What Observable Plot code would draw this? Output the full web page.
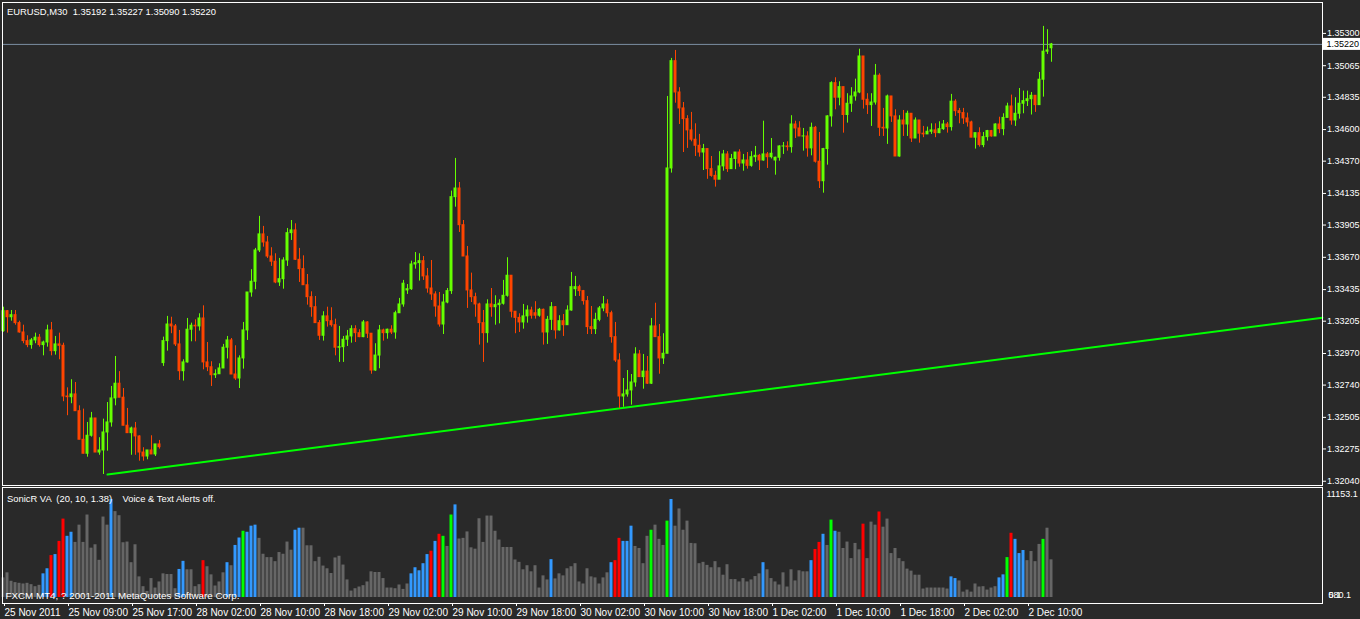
<!DOCTYPE html>
<html><head><meta charset="utf-8">
<script src="https://cdn.jsdelivr.net/npm/d3@7"></script>
<script src="https://cdn.jsdelivr.net/npm/@observablehq/plot@0.6"></script>
<style>
html,body{margin:0;padding:0;background:#292929;}
#chart{position:relative;width:1360px;height:619px;overflow:hidden;background:#292929;}
#chart svg{position:absolute;left:0;display:block;}
svg text{white-space:pre;}
</style></head><body><div id="chart"></div>
<script>
const symbol = "EURUSD,M30";
const indicatorTitle = "SonicR VA  (20, 10, 1.38)    Voice & Text Alerts off.";
const copyright = "FXCM MT4, ? 2001-2011 MetaQuotes Software Corp.";

const open = [
1.33133,1.33278,1.33234,1.33249,1.33191,1.33123,1.33060,1.33031,1.33065,1.33085,1.33031,1.33050,1.33138,1.32987,1.33036,1.33026,
1.32657,1.32652,1.32672,1.32550,1.32342,1.32240,1.32371,1.32497,1.32249,1.32264,1.32395,1.32468,1.32643,1.32750,1.32648,1.32444,
1.32390,1.32424,1.32366,1.32249,1.32220,1.32264,1.32235,1.32308,1.32900,1.33060,1.33181,1.33167,1.33036,1.32841,1.32905,1.33143,
1.33172,1.33167,1.33225,1.32905,1.32870,1.32812,1.32819,1.32861,1.33012,1.33065,1.32817,1.32788,1.32934,1.33138,1.33414,1.33492,
1.33720,1.33837,1.33778,1.33676,1.33638,1.33487,1.33511,1.33647,1.33846,1.33866,1.33652,1.33584,1.33467,1.33380,1.33307,1.33191,
1.33099,1.33240,1.33205,1.33176,1.33012,1.33016,1.33070,1.33094,1.33147,1.33118,1.33089,1.33196,1.33114,1.32846,1.32955,1.33138,
1.33118,1.33143,1.33123,1.33263,1.33327,1.33429,1.33438,1.33618,1.33628,1.33642,1.33531,1.33443,1.33400,1.33312,1.33181,1.33341,
1.33424,1.34108,1.34171,1.33904,1.33676,1.33429,1.33380,1.33327,1.33191,1.33118,1.33327,1.33307,1.33322,1.33332,1.33390,1.33536,
1.33274,1.33229,1.33196,1.33240,1.33283,1.33263,1.33245,1.33288,1.33123,1.33215,1.33307,1.33138,1.33205,1.33176,1.33283,1.33438,
1.33453,1.33424,1.33351,1.33162,1.33147,1.33215,1.33298,1.33327,1.33263,1.33089,1.32919,1.32657,1.32672,1.32701,1.32759,1.32963,
1.32798,1.32838,1.32750,1.33167,1.33089,1.32934,1.32968,1.34317,1.35098,1.34870,1.34754,1.34676,1.34594,1.34526,1.34482,1.34433,
1.34458,1.34312,1.34263,1.34235,1.34332,1.34419,1.34312,1.34386,1.34433,1.34353,1.34375,1.34336,1.34399,1.34409,1.34375,1.34419,
1.34399,1.34375,1.34395,1.34477,1.34477,1.34472,1.34637,1.34608,1.34550,1.34550,1.34463,1.34613,1.34366,1.34224,1.34458,1.34696,
1.34938,1.34832,1.34909,1.34706,1.34788,1.34841,1.34870,1.35132,1.34817,1.34778,1.34797,1.34992,1.34613,1.34608,1.34841,1.34696,
1.34404,1.34666,1.34637,1.34715,1.34535,1.34666,1.34570,1.34565,1.34584,1.34594,1.34574,1.34603,1.34637,1.34618,1.34803,1.34734,
1.34720,1.34681,1.34652,1.34541,1.34574,1.34487,1.34545,1.34589,1.34550,1.34637,1.34603,1.34685,1.34768,1.34666,1.34715,1.34788,
1.34807,1.34821,1.34846,1.34778,1.34963,1.35167,1.35192];

const high = [
1.33307,1.33283,1.33283,1.33283,1.33205,1.33176,1.33099,1.33079,1.33118,1.33108,1.33060,1.33176,1.33196,1.33094,1.33118,1.33045,
1.32720,1.32779,1.32759,1.32589,1.32565,1.32468,1.32541,1.32497,1.32357,1.32492,1.32613,1.32730,1.32948,1.32838,1.32715,1.32570,
1.32434,1.32468,1.32371,1.32284,1.32264,1.32371,1.32308,1.32337,1.33089,1.33240,1.33234,1.33181,1.33138,1.32924,1.33225,1.33191,
1.33215,1.33259,1.33317,1.33050,1.32910,1.32851,1.32895,1.33036,1.33094,1.33079,1.33026,1.32953,1.33196,1.33414,1.33580,1.33735,
1.33968,1.33895,1.33822,1.33740,1.33696,1.33662,1.33667,1.33880,1.33938,1.33914,1.33735,1.33681,1.33545,1.33419,1.33385,1.33210,
1.33274,1.33307,1.33303,1.33220,1.33167,1.33094,1.33138,1.33172,1.33172,1.33143,1.33210,1.33201,1.33114,1.33041,1.33174,1.33147,
1.33147,1.33172,1.33278,1.33371,1.33502,1.33472,1.33642,1.33705,1.33696,1.33676,1.33589,1.33647,1.33419,1.33414,1.33400,1.33443,
1.34152,1.34390,1.34215,1.33938,1.33749,1.33555,1.33409,1.33336,1.33283,1.33361,1.33443,1.33390,1.33361,1.33502,1.33667,1.33536,
1.33274,1.33259,1.33327,1.33317,1.33307,1.33347,1.33298,1.33293,1.33240,1.33341,1.33312,1.33245,1.33254,1.33317,1.33560,1.33531,
1.33467,1.33429,1.33385,1.33312,1.33263,1.33312,1.33385,1.33361,1.33278,1.33196,1.32968,1.32788,1.32846,1.32817,1.33012,1.32992,
1.32963,1.32948,1.33225,1.33336,1.33181,1.33114,1.34841,1.35118,1.35176,1.34905,1.34797,1.34701,1.34725,1.34642,1.34565,1.34492,
1.34458,1.34404,1.34297,1.34439,1.34448,1.34439,1.34419,1.34433,1.34453,1.34419,1.34433,1.34439,1.34477,1.34419,1.34661,1.34433,
1.34535,1.34399,1.34482,1.34506,1.34511,1.34701,1.34661,1.34657,1.34608,1.34584,1.34647,1.34623,1.34579,1.34463,1.34701,1.34948,
1.34977,1.34948,1.34909,1.34861,1.34905,1.34967,1.35185,1.35132,1.34861,1.34861,1.35074,1.35006,1.34754,1.34851,1.34841,1.34744,
1.34701,1.34739,1.34734,1.34715,1.34685,1.34666,1.34623,1.34618,1.34642,1.34642,1.34657,1.34666,1.34652,1.34856,1.34817,1.34754,
1.34754,1.34720,1.34661,1.34574,1.34613,1.34579,1.34594,1.34594,1.34642,1.34690,1.34715,1.34792,1.34851,1.34832,1.34899,1.34880,
1.34880,1.34870,1.34846,1.35016,1.35351,1.35327,1.35227];

const low = [
1.33125,1.33118,1.33205,1.33176,1.33118,1.33041,1.33012,1.33001,1.33041,1.33016,1.32953,1.33016,1.32953,1.32958,1.32924,1.32619,
1.32517,1.32604,1.32550,1.32342,1.32240,1.32215,1.32361,1.32249,1.32229,1.32089,1.32259,1.32434,1.32589,1.32648,1.32444,1.32390,
1.32229,1.32229,1.32186,1.32186,1.32196,1.32235,1.32220,1.32274,1.32876,1.32987,1.33114,1.33021,1.32774,1.32769,1.32900,1.33055,
1.33055,1.33133,1.32851,1.32838,1.32730,1.32788,1.32817,1.32861,1.32930,1.32817,1.32774,1.32715,1.32856,1.33065,1.33380,1.33434,
1.33705,1.33744,1.33662,1.33604,1.33478,1.33458,1.33438,1.33604,1.33793,1.33647,1.33487,1.33467,1.33322,1.33234,1.33191,1.33065,
1.33060,1.33162,1.33162,1.32953,1.32905,1.32905,1.33021,1.33045,1.33050,1.33085,1.33085,1.33079,1.32819,1.32840,1.32859,1.33060,
1.33074,1.33108,1.33074,1.33263,1.33307,1.33400,1.33429,1.33584,1.33497,1.33502,1.33409,1.33356,1.33234,1.33162,1.33108,1.33332,
1.33400,1.34035,1.33851,1.33676,1.33298,1.33341,1.33234,1.33031,1.32905,1.33045,1.33234,1.33176,1.33186,1.33322,1.33380,1.33229,
1.33114,1.33123,1.33147,1.33191,1.33220,1.33220,1.33234,1.33031,1.33036,1.33138,1.33074,1.33133,1.33094,1.33176,1.33278,1.33385,
1.33385,1.33322,1.33108,1.33108,1.33108,1.33201,1.33274,1.33234,1.33045,1.32905,1.32570,1.32579,1.32652,1.32594,1.32725,1.32798,
1.32710,1.32745,1.32745,1.33089,1.32819,1.32890,1.32968,1.34283,1.34792,1.34637,1.34433,1.34463,1.34511,1.34404,1.34399,1.34302,
1.34238,1.34253,1.34181,1.34238,1.34297,1.34288,1.34312,1.34308,1.34326,1.34297,1.34312,1.34326,1.34361,1.34302,1.34370,1.34317,
1.34386,1.34268,1.34370,1.34419,1.34443,1.34428,1.34535,1.34550,1.34443,1.34399,1.34409,1.34356,1.34171,1.34137,1.34341,1.34618,
1.34744,1.34773,1.34574,1.34647,1.34725,1.34807,1.34861,1.34749,1.34710,1.34623,1.34778,1.34550,1.34550,1.34492,1.34652,1.34404,
1.34399,1.34550,1.34550,1.34506,1.34535,1.34501,1.34541,1.34565,1.34565,1.34541,1.34570,1.34594,1.34574,1.34589,1.34696,1.34642,
1.34637,1.34618,1.34541,1.34458,1.34472,1.34468,1.34516,1.34545,1.34550,1.34570,1.34555,1.34685,1.34632,1.34623,1.34676,1.34715,
1.34768,1.34706,1.34725,1.34778,1.34836,1.35147,1.35090];

const close = [
1.33278,1.33234,1.33249,1.33191,1.33123,1.33060,1.33031,1.33065,1.33085,1.33031,1.33050,1.33138,1.32987,1.33036,1.33026,1.32657,
1.32652,1.32672,1.32550,1.32342,1.32240,1.32371,1.32497,1.32249,1.32264,1.32395,1.32468,1.32643,1.32750,1.32648,1.32444,1.32390,
1.32424,1.32366,1.32249,1.32220,1.32264,1.32235,1.32308,1.32288,1.33060,1.33181,1.33167,1.33036,1.32841,1.32905,1.33143,1.33172,
1.33167,1.33225,1.32905,1.32870,1.32812,1.32819,1.32861,1.33012,1.33065,1.32817,1.32788,1.32934,1.33138,1.33414,1.33492,1.33720,
1.33837,1.33778,1.33676,1.33638,1.33487,1.33511,1.33647,1.33846,1.33866,1.33652,1.33584,1.33467,1.33380,1.33307,1.33191,1.33099,
1.33240,1.33205,1.33176,1.33012,1.33016,1.33070,1.33094,1.33147,1.33118,1.33089,1.33196,1.33114,1.32846,1.32955,1.33138,1.33118,
1.33143,1.33123,1.33263,1.33327,1.33478,1.33438,1.33618,1.33628,1.33642,1.33531,1.33443,1.33400,1.33312,1.33181,1.33341,1.33424,
1.34108,1.34171,1.33904,1.33676,1.33429,1.33380,1.33327,1.33191,1.33118,1.33327,1.33307,1.33322,1.33332,1.33390,1.33536,1.33274,
1.33229,1.33196,1.33240,1.33283,1.33245,1.33245,1.33288,1.33123,1.33215,1.33307,1.33138,1.33205,1.33176,1.33283,1.33453,1.33453,
1.33424,1.33351,1.33162,1.33147,1.33215,1.33298,1.33327,1.33263,1.33089,1.32919,1.32657,1.32672,1.32701,1.32759,1.32963,1.32798,
1.32838,1.32750,1.33167,1.33089,1.32934,1.32968,1.34317,1.35098,1.34870,1.34754,1.34676,1.34594,1.34526,1.34482,1.34433,1.34458,
1.34312,1.34263,1.34235,1.34332,1.34419,1.34312,1.34386,1.34433,1.34353,1.34375,1.34336,1.34399,1.34409,1.34375,1.34419,1.34399,
1.34424,1.34395,1.34477,1.34477,1.34472,1.34637,1.34608,1.34550,1.34550,1.34463,1.34613,1.34366,1.34224,1.34458,1.34696,1.34938,
1.34832,1.34909,1.34706,1.34788,1.34841,1.34870,1.35132,1.34817,1.34778,1.34797,1.34992,1.34613,1.34608,1.34841,1.34696,1.34404,
1.34666,1.34637,1.34715,1.34535,1.34666,1.34570,1.34565,1.34584,1.34594,1.34574,1.34603,1.34637,1.34618,1.34803,1.34734,1.34720,
1.34681,1.34652,1.34541,1.34574,1.34487,1.34545,1.34589,1.34550,1.34637,1.34603,1.34685,1.34768,1.34666,1.34715,1.34788,1.34807,
1.34821,1.34846,1.34778,1.34963,1.35167,1.35176,1.35220];

const volume = [
2187,2752,1810,1659,1583,1508,1583,1433,1206,1357,2639,3205,4675,4788,6258,8746,
6824,7276,6145,8068,6145,9199,5504,5881,4147,8973,8068,10933,9576,9123,6107,6183,
3883,5881,2300,1206,679,2111,1056,1734,2639,2564,2564,980,3129,4034,3091,3091,
1206,1433,4109,3431,2526,1282,1734,2752,3883,3544,5806,6635,7389,7276,7955,8068,
6598,4826,4449,4449,3996,5014,4826,6183,5278,7502,7729,7729,5768,5768,3996,4486,
3506,3205,2677,4411,4599,3619,1960,716,980,1169,1320,1734,2865,2790,2790,2111,
1056,1056,980,1395,905,1508,2639,3318,2978,3770,4788,5165,6258,7050,6824,5693,
9199,10330,6522,6598,7314,5542,5391,8784,6145,9086,9086,7389,6409,5580,5580,5580,
4185,3921,3091,3544,2865,3544,1056,2413,1960,4222,2074,2639,2413,3205,3431,3770,
1734,1508,3205,2300,2187,1508,2187,2752,3883,4109,6598,6258,6258,7955,5693,5467,
3770,6824,7502,8068,6484,5806,8520,10933,7955,9877,7502,8520,6032,5994,3770,3921,
3582,3318,3996,3318,2488,3657,1998,1998,1734,2111,1734,1960,2337,2639,3883,3091,
2111,1734,1395,2752,1169,3091,1847,2978,2865,2865,4109,5353,6145,7050,5806,8633,
7389,7276,5467,6183,4336,6032,5316,8181,4336,8407,8068,9538,7842,8746,4901,5467,
4336,3996,3167,2941,2488,2488,943,1056,1056,1056,1056,1056,943,2300,2111,1847,
603,829,600,1508,1169,1206,829,1056,1206,2187,2526,4449,7163,6484,4901,5240,
4109,5127,3996,5919,6484,7729,4200];

const blueBars = [10,11,13,16,17,27,44,45,56,58,59,61,62,63,73,74,102,103,104,105,106,108,113,137,152,155,156,157,167,190,202,205,208,237,238,249,250,253,254,255];
const redBars = [12,14,15,50,107,109,153,154,203,204,215,219,252];
const greenBars = [60,110,112,162,166,207,251,260];

const priceTicks = [1.35300,1.35065,1.34835,1.34600,1.34370,1.34135,1.33905,1.33670,1.33435,1.33205,1.32970,1.32740,1.32505,1.32275,1.32040];
const volumeMax = 11153.1;
const volumeMinLabels = ["580.1", "0.1"];
const timeTickBars = [0,16,32,48,64,80,96,112,128,144,160,176,192,208,224,240,256];
const timeLabels = ["25 Nov 2011","25 Nov 09:00","25 Nov 17:00","28 Nov 02:00","28 Nov 10:00","28 Nov 18:00","29 Nov 02:00","29 Nov 10:00","29 Nov 18:00","30 Nov 02:00","30 Nov 10:00","30 Nov 18:00","1 Dec 02:00","1 Dec 10:00","1 Dec 18:00","2 Dec 02:00","2 Dec 10:00"];
const trendline = [{bar: 26, price: 1.32089}, {bar: 329.75, price: 1.33230}];

const BG = "#292929", FG = "#ffffff", UP = "#66ff00", DOWN = "#ff4500";
const FONT = "'Liberation Sans', Arial, sans-serif";
const fmt5 = d3.format(".5f");
const xDomain = [-0.25, 329.75];

const bars = close.map((c, i) => ({i, o: open[i], h: high[i], l: low[i], c}));
const upBars = bars.filter(d => d.c >= d.o);
const downBars = bars.filter(d => d.c < d.o);
const last = bars[bars.length - 1];

const bodyOpts = {x1: d => d.i - 0.375, x2: d => d.i + 0.375, y1: "o", y2: "c", insetTop: -0.5, insetBottom: -0.5};

const pricePlot = Plot.plot({
  width: 1360, height: 486,
  marginLeft: 2, marginRight: 38, marginTop: 2, marginBottom: 1,
  style: {background: BG, color: FG, fontFamily: FONT, fontSize: "10px"},
  x: {domain: xDomain, axis: null},
  y: {domain: [1.32009, 1.35525], label: null},
  marks: [
    Plot.ruleY([last.c], {stroke: "#7b8ea3"}),
    Plot.line(trendline, {x: "bar", y: "price", stroke: "#00ff00", strokeWidth: 2}),
    Plot.ruleX(upBars, {x: "i", y1: "l", y2: "h", stroke: UP}),
    Plot.ruleX(downBars, {x: "i", y1: "l", y2: "h", stroke: DOWN}),
    Plot.rect(upBars, {...bodyOpts, fill: UP}),
    Plot.rect(downBars, {...bodyOpts, fill: DOWN}),
    Plot.frame({stroke: FG}),
    Plot.axisY(priceTicks, {anchor: "right", label: null, tickSize: 3, tickPadding: 1.5, tickFormat: fmt5, stroke: FG, fontSize: 9}),
    (index, scales, values, dims) => {
      const y = scales.y(last.c);
      const g = d3.create("svg:g");
      const x0 = dims.width - dims.marginRight + 1;
      g.append("rect").attr("x", x0).attr("y", y - 6).attr("width", 37).attr("height", 12).attr("fill", "#fff");
      g.append("text").attr("x", x0 + 3.5).attr("y", y).attr("dy", "0.35em").attr("text-anchor", "start")
        .attr("fill", "#000").attr("font-family", FONT).attr("font-size", 9).text(fmt5(last.c));
      return g.node();
    },
    Plot.text([`${symbol}  ${fmt5(last.o)} ${fmt5(last.h)} ${fmt5(last.l)} ${fmt5(last.c)}`],
      {frameAnchor: "top-left", dx: 4.5, dy: 9, lineAnchor: "middle", textAnchor: "start", fill: FG, fontSize: 9.4})
  ]
});

const kindOf = i => blueBars.includes(i) ? "#3399ff" : redBars.includes(i) ? "#ff0000" : greenBars.includes(i) ? "#00ff00" : "#666666";
const vbars = volume.map((v, i) => ({i, v, color: kindOf(i)}));
const volColors = ["#666666", "#3399ff", "#ff0000", "#00ff00"];

const volumePlot = Plot.plot({
  width: 1360, height: 133,
  marginLeft: 2, marginRight: 38, marginTop: 1, marginBottom: 16,
  style: {background: BG, color: FG, fontFamily: FONT, fontSize: "10px"},
  x: {domain: xDomain, label: null},
  y: {domain: [-669.2, 12268.4], label: null},
  marks: [
    ...volColors.map(col => Plot.rectY(vbars.filter(d => d.color === col),
      {x1: d => d.i - 0.375, x2: d => d.i + 0.375, y1: 0, y2: "v", fill: col})),
    Plot.frame({stroke: FG}),
    Plot.axisX(timeTickBars, {anchor: "bottom", label: null, tickSize: 3, tickPadding: 2, textAnchor: "start", dx: 1,
      tickFormat: d => timeLabels[timeTickBars.indexOf(d)], stroke: FG}),
    Plot.axisY([volumeMax], {anchor: "right", label: null, tickSize: 0, tickPadding: 4, dy: -3, fontSize: 9, tickFormat: d => d.toFixed(1)}),
    Plot.text(volumeMinLabels, {frameAnchor: "bottom-right", dx: 6, dy: -8, textAnchor: "start", lineAnchor: "middle", fill: FG, fontSize: 9}),
    Plot.text([indicatorTitle], {frameAnchor: "top-left", dx: 4.5, dy: 11, lineAnchor: "middle", textAnchor: "start", fill: FG, fontSize: 9.4}),
    Plot.text([copyright], {frameAnchor: "bottom-left", dx: 3, dy: -8, lineAnchor: "middle", textAnchor: "start", fill: FG, fontSize: 9.8})
  ]
});

pricePlot.style.top = "0px";
volumePlot.style.top = "486px";
document.getElementById("chart").append(pricePlot, volumePlot);
</script>
</body></html>
